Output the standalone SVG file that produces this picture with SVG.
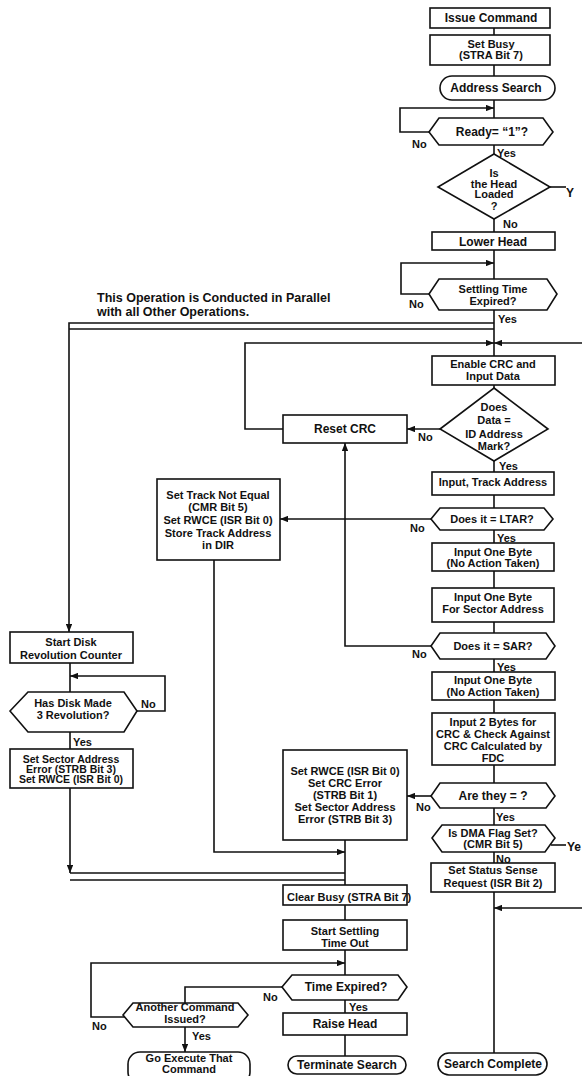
<svg xmlns="http://www.w3.org/2000/svg" width="582" height="1076" viewBox="0 0 582 1076">
<defs>
<style>
.n{fill:#fff;stroke:#111;stroke-width:1.6}
.c{fill:none;stroke:#111;stroke-width:1.6}
.t{font-family:"Liberation Sans",Arial,Helvetica,sans-serif;font-weight:bold;font-size:11px;fill:#111;text-anchor:middle}
.L{font-size:12px}
.s{text-anchor:start}
</style>
<marker id="a" viewBox="0 0 10 8" markerWidth="8" markerHeight="6.4" refX="10" refY="4" orient="auto" markerUnits="userSpaceOnUse">
<path d="M0,0 L10,4 L0,8 z" fill="#111"/>
</marker>
</defs>
<rect width="582" height="1076" fill="#fff"/>

<g id="connectors">
<path class="c" d="M494 28 V1053"/>
<path class="c" d="M429 132 H400 V108 H494" marker-end="url(#a)"/>
<path class="c" d="M429 294 H401 V263 H494" marker-end="url(#a)"/>
<path class="c" d="M494 323 H69 V632" marker-end="url(#a)"/>
<path class="c" d="M494 329 H69"/>
<path class="c" d="M283 429 H245 V343 H494" marker-end="url(#a)"/>
<path class="c" d="M582 343 H494" marker-end="url(#a)"/>
<path class="c" d="M440 429 H407" marker-end="url(#a)"/>
<path class="c" d="M431 519 H280" marker-end="url(#a)"/>
<path class="c" d="M431 646 H345 V443" marker-end="url(#a)"/>
<path class="c" d="M431 796 H407" marker-end="url(#a)"/>
<path class="c" d="M550 187 H566"/>
<path class="c" d="M551 845 H566"/>
<path class="c" d="M582 908 H494" marker-end="url(#a)"/>
<path class="c" d="M70 663 V692 M70 732 V749"/>
<path class="c" d="M137 711 H165 V676 H70" marker-end="url(#a)"/>
<path class="c" d="M70 788 V873" marker-end="url(#a)"/>
<path class="c" d="M70 873 H345 M70 880 H345"/>
<path class="c" d="M214 560 V852 H345" marker-end="url(#a)"/>
<path class="c" d="M345 840 V1056"/>
<path class="c" d="M282 987 H185 V1003"/>
<path class="c" d="M125 1017 H91 V963 H345" marker-end="url(#a)"/>
<path class="c" d="M185 1027 V1052" marker-end="url(#a)"/>
</g>

<g id="labels">
<text class="t L s" x="97" y="302" style="font-size:12.5px">This Operation is Conducted in Parallel</text>
<text class="t L s" x="97" y="316" style="font-size:12.5px">with all Other Operations.</text>
<text class="t s" x="412" y="148">No</text>
<text class="t s" x="497" y="157">Yes</text>
<text class="t L s" x="566" y="197">Y</text>
<text class="t s" x="503" y="228">No</text>
<text class="t s" x="409" y="308">No</text>
<text class="t s" x="498" y="323">Yes</text>
<text class="t s" x="418" y="441">No</text>
<text class="t s" x="499" y="470">Yes</text>
<text class="t s" x="410" y="532">No</text>
<text class="t s" x="497" y="542">Yes</text>
<text class="t s" x="412" y="658">No</text>
<text class="t s" x="497" y="671">Yes</text>
<text class="t s" x="416" y="811">No</text>
<text class="t s" x="496" y="821">Yes</text>
<text class="t L s" x="567" y="851">Ye</text>
<text class="t s" x="496" y="863">No</text>
<text class="t s" x="141" y="708">No</text>
<text class="t s" x="73" y="746">Yes</text>
<text class="t s" x="263" y="1001">No</text>
<text class="t s" x="349" y="1011">Yes</text>
<text class="t s" x="92" y="1030">No</text>
<text class="t s" x="192" y="1040">Yes</text>
</g>

<g id="issue-command">
<rect class="n" x="430" y="8" width="120" height="20"/>
<text class="t L" x="491" y="22">Issue Command</text>
</g>
<g id="set-busy">
<rect class="n" x="430" y="35" width="120" height="30"/>
<text class="t" x="491" y="48">Set Busy</text>
<text class="t" x="491" y="59">(STRA Bit 7)</text>
</g>
<g id="address-search">
<rect class="n" x="440" y="76" width="115" height="24" rx="12"/>
<text class="t L" x="496" y="92">Address Search</text>
</g>
<g id="ready">
<polygon class="n" points="429,132 439,118 543,118 553,132 543,145 439,145"/>
<text class="t L" x="492" y="136">Ready= “1”?</text>
</g>
<g id="head-loaded">
<polygon class="n" points="494,154 550,187 494,219 438,187"/>
<text class="t" x="494" y="177">Is</text>
<text class="t" x="494" y="188">the Head</text>
<text class="t" x="494" y="198">Loaded</text>
<text class="t" x="494" y="210">?</text>
</g>
<g id="lower-head">
<rect class="n" x="432" y="232" width="123" height="18"/>
<text class="t L" x="493" y="246">Lower Head</text>
</g>
<g id="settling">
<polygon class="n" points="429,294 439,279 547,279 557,294 547,310 439,310"/>
<text class="t" x="493" y="293">Settling Time</text>
<text class="t" x="493" y="305">Expired?</text>
</g>
<g id="enable-crc">
<rect class="n" x="432" y="356" width="123" height="29"/>
<text class="t" x="493" y="368">Enable CRC and</text>
<text class="t" x="493" y="380">Input Data</text>
</g>
<g id="id-mark">
<polygon class="n" points="494,388 548,429 494,461 440,429"/>
<text class="t" x="494" y="411">Does</text>
<text class="t" x="494" y="424">Data =</text>
<text class="t" x="494" y="438">ID Address</text>
<text class="t" x="494" y="450">Mark?</text>
</g>
<g id="reset-crc">
<rect class="n" x="283" y="415" width="124" height="28"/>
<text class="t L" x="345" y="433">Reset CRC</text>
</g>
<g id="input-track">
<rect class="n" x="432" y="472" width="122" height="23"/>
<text class="t" x="493" y="486">Input, Track Address</text>
</g>
<g id="ltar">
<polygon class="n" points="431,519 440,508 544,508 553,519 544,530 440,530"/>
<text class="t" x="492" y="523">Does it = LTAR?</text>
</g>
<g id="track-not-equal">
<rect class="n" x="157" y="479" width="123" height="81"/>
<text class="t" x="218" y="499">Set Track Not Equal</text>
<text class="t" x="218" y="511">(CMR Bit 5)</text>
<text class="t" x="218" y="524">Set RWCE (ISR Bit 0)</text>
<text class="t" x="218" y="537">Store Track Address</text>
<text class="t" x="218" y="549">in DIR</text>
</g>
<g id="input-byte-1">
<rect class="n" x="432" y="543" width="122" height="28"/>
<text class="t" x="493" y="556">Input One Byte</text>
<text class="t" x="493" y="567">(No Action Taken)</text>
</g>
<g id="input-sector">
<rect class="n" x="432" y="588" width="122" height="34"/>
<text class="t" x="493" y="601">Input One Byte</text>
<text class="t" x="493" y="613">For Sector Address</text>
</g>
<g id="sar">
<polygon class="n" points="431,646 440,633 546,633 555,646 546,659 440,659"/>
<text class="t" x="493" y="650">Does it = SAR?</text>
</g>
<g id="input-byte-2">
<rect class="n" x="432" y="672" width="123" height="28"/>
<text class="t" x="493" y="684">Input One Byte</text>
<text class="t" x="493" y="696">(No Action Taken)</text>
</g>
<g id="input-crc">
<rect class="n" x="432" y="713" width="123" height="52"/>
<text class="t" x="493" y="726">Input 2 Bytes for</text>
<text class="t" x="493" y="738">CRC &amp; Check Against</text>
<text class="t" x="493" y="750">CRC Calculated by</text>
<text class="t" x="493" y="762">FDC</text>
</g>
<g id="start-disk">
<rect class="n" x="10" y="632" width="123" height="31"/>
<text class="t" x="71" y="646">Start Disk</text>
<text class="t" x="71" y="659">Revolution Counter</text>
</g>
<g id="three-rev">
<polygon class="n" points="10,711 28,692 124,692 137,711 124,732 28,732"/>
<text class="t" x="73" y="707">Has Disk Made</text>
<text class="t" x="73" y="719">3 Revolution?</text>
</g>
<g id="sector-error">
<rect class="n" x="10" y="749" width="123" height="39"/>
<text class="t" x="71" y="763" style="font-size:10.5px">Set Sector Address</text>
<text class="t" x="71" y="773" style="font-size:10.5px">Error (STRB Bit 3)</text>
<text class="t" x="71" y="783" style="font-size:10.5px">Set RWCE (ISR Bit 0)</text>
</g>
<g id="crc-error">
<rect class="n" x="283" y="750" width="124" height="90"/>
<text class="t" x="345" y="775">Set RWCE (ISR Bit 0)</text>
<text class="t" x="345" y="787">Set CRC Error</text>
<text class="t" x="345" y="799">(STRB Bit 1)</text>
<text class="t" x="345" y="811">Set Sector Address</text>
<text class="t" x="345" y="823">Error (STRB Bit 3)</text>
</g>
<g id="are-they">
<polygon class="n" points="431,796 440,783 546,783 555,796 546,808 440,808"/>
<text class="t L" x="493" y="800">Are they = ?</text>
</g>
<g id="dma">
<polygon class="n" points="432,838 442,825 545,825 555,838 545,852 442,852"/>
<text class="t" x="493" y="837">Is DMA Flag Set?</text>
<text class="t" x="493" y="848">(CMR Bit 5)</text>
</g>
<g id="status-sense">
<rect class="n" x="431" y="863" width="124" height="29"/>
<text class="t" x="493" y="874">Set Status Sense</text>
<text class="t" x="493" y="887">Request (ISR Bit 2)</text>
</g>
<g id="clear-busy">
<rect class="n" x="283" y="885" width="124" height="20"/>
<text class="t s" x="287" y="901">Clear Busy (STRA Bit 7)</text>
</g>
<g id="start-settling">
<rect class="n" x="283" y="920" width="124" height="30"/>
<text class="t" x="345" y="935">Start Settling</text>
<text class="t" x="345" y="947">Time Out</text>
</g>
<g id="time-expired">
<polygon class="n" points="282,987 292,975 398,975 407,987 398,1000 292,1000"/>
<text class="t L" x="346" y="991">Time Expired?</text>
</g>
<g id="another-command">
<polygon class="n" points="123,1015 133,1003 238,1003 248,1015 238,1027 133,1027"/>
<text class="t" x="185" y="1011">Another Command</text>
<text class="t" x="185" y="1023">Issued?</text>
</g>
<g id="raise-head">
<rect class="n" x="283" y="1013" width="124" height="22"/>
<text class="t L" x="345" y="1028">Raise Head</text>
</g>
<g id="go-execute">
<rect class="n" x="128" y="1052" width="122" height="32" rx="12"/>
<text class="t" x="189" y="1062">Go Execute That</text>
<text class="t" x="189" y="1073">Command</text>
</g>
<g id="terminate-search">
<rect class="n" x="288" y="1056" width="118" height="18" rx="9"/>
<text class="t L" x="347" y="1069">Terminate Search</text>
</g>
<g id="search-complete">
<rect class="n" x="438" y="1053" width="109" height="22" rx="11"/>
<text class="t L" x="493" y="1068">Search Complete</text>
</g>
</svg>
